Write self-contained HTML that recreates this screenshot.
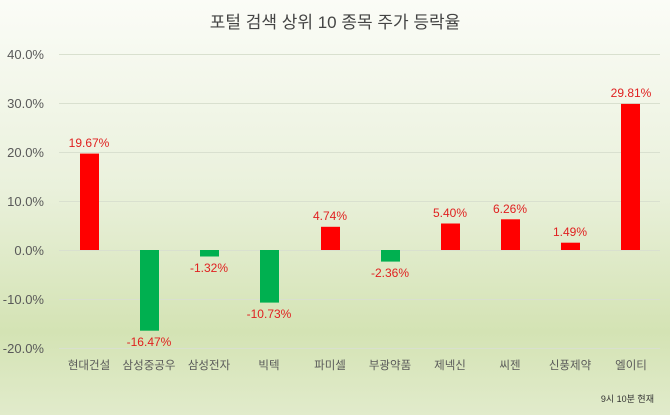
<!DOCTYPE html>
<html><head><meta charset="utf-8"><style>
body{margin:0}
svg{display:block}
text{font-family:"Liberation Sans","Noto Sans CJK KR",sans-serif}
</style></head><body>
<svg width="670" height="415" xmlns="http://www.w3.org/2000/svg">
<defs><linearGradient id="g" x1="0" y1="0" x2="0" y2="1">
<stop offset="0" stop-color="#fbfcf7"/><stop offset="0.45" stop-color="#eaf1dc"/>
<stop offset="0.8" stop-color="#d4e3b4"/><stop offset="1" stop-color="#e1ebcb"/></linearGradient></defs>
<rect width="670" height="415" fill="url(#g)"/>
<text x="335" y="28" text-anchor="middle" font-size="17" fill="#444">포털 검색 상위 10 종목 주가 등락율</text>
<g stroke="#d9e0cf" stroke-width="1">
<line x1="59" x2="660" y1="54.5" y2="54.5"/><line x1="59" x2="660" y1="103.5" y2="103.5"/>
<line x1="59" x2="660" y1="152.5" y2="152.5"/><line x1="59" x2="660" y1="201.5" y2="201.5"/>
<line x1="59" x2="660" y1="250.5" y2="250.5"/><line x1="59" x2="660" y1="299.5" y2="299.5"/>
<line x1="59" x2="660" y1="348.5" y2="348.5"/></g>
<g font-size="13" fill="#595959" text-anchor="end">
<text x="44" y="59">40.0%</text><text x="44" y="108">30.0%</text><text x="44" y="157">20.0%</text>
<text x="44" y="206">10.0%</text><text x="44" y="255">0.0%</text><text x="44" y="304">-10.0%</text><text x="44" y="353">-20.0%</text></g>
<g>
<rect x="80" y="153.6" width="19" height="96.4" fill="#ff0000"/>
<rect x="140" y="250" width="19" height="80.7" fill="#00b050"/>
<rect x="200" y="250" width="19" height="6.5" fill="#00b050"/>
<rect x="260" y="250" width="19" height="52.6" fill="#00b050"/>
<rect x="321" y="226.8" width="19" height="23.2" fill="#ff0000"/>
<rect x="381" y="250" width="19" height="11.6" fill="#00b050"/>
<rect x="441" y="223.5" width="19" height="26.5" fill="#ff0000"/>
<rect x="501" y="219.3" width="19" height="30.7" fill="#ff0000"/>
<rect x="561" y="242.7" width="19" height="7.3" fill="#ff0000"/>
<rect x="621" y="103.9" width="19" height="146.1" fill="#ff0000"/>
</g>
<g font-size="12" fill="#e02020" text-anchor="middle">
<text x="89" y="147">19.67%</text><text x="149" y="346">-16.47%</text><text x="209" y="272">-1.32%</text>
<text x="269" y="318">-10.73%</text><text x="330" y="220">4.74%</text><text x="390" y="277">-2.36%</text>
<text x="450" y="217">5.40%</text><text x="510" y="213">6.26%</text><text x="570" y="236">1.49%</text>
<text x="631" y="97">29.81%</text></g>
<g font-size="11.5" fill="#595959" text-anchor="middle">
<text x="89" y="369">현대건설</text><text x="149" y="369">삼성중공우</text><text x="209" y="369">삼성전자</text>
<text x="269" y="369">빅텍</text><text x="330" y="369">파미셀</text><text x="390" y="369">부광약품</text>
<text x="450" y="369">제넥신</text><text x="510" y="369">씨젠</text><text x="570" y="369">신풍제약</text>
<text x="631" y="369">엘이티</text></g>
<text x="654" y="402" font-size="9" fill="#333" text-anchor="end">9시  10분 현재</text>
</svg>
</body></html>
